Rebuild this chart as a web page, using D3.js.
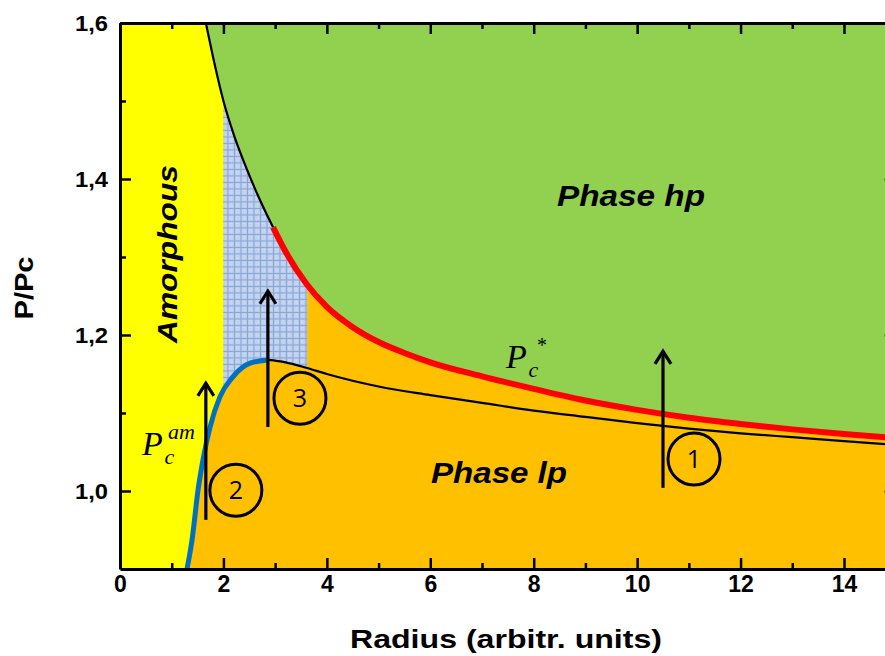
<!DOCTYPE html>
<html>
<head>
<meta charset="utf-8">
<script src="https://cdn.jsdelivr.net/npm/d3@7"></script>
<style>
  body { margin: 0; background: #fff; }
  svg { display: block; }
  .axis path, .axis line { stroke: #000; }
</style>
</head>
<body>
<div id="chart"></div>
<script>
// phase boundaries: radius (arb. units) -> P/Pc
// upper boundary, thin black part
var upperR = [1.66, 1.8, 2.0, 2.2, 2.45, 2.7, 2.96]
var upperP = [1.6, 1.556, 1.5, 1.457, 1.413, 1.374, 1.338]
// upper boundary, red part (Pc*)
var pcStarR = [2.96, 3.2, 3.6, 4, 4.5, 5, 5.5, 6, 7, 8, 9, 10, 11, 12, 13, 14, 15]
var pcStarP = [1.338, 1.307, 1.266, 1.236, 1.210, 1.191, 1.177, 1.165, 1.147, 1.131, 1.116, 1.104, 1.094, 1.086, 1.079, 1.073, 1.068]
// blue curve (Pc am)
var pcAmR = [1.296, 1.393, 1.509, 1.605, 1.741, 1.934, 2.166, 2.515, 2.86]
var pcAmP = [0.9, 0.937, 1.001, 1.040, 1.082, 1.121, 1.145, 1.164, 1.168]
// thin black line under the red one
var lpR = [2.86, 3.2, 3.6, 4, 5, 6, 7, 8, 9, 10, 11, 12, 13, 14, 15]
var lpP = [1.168, 1.165, 1.158, 1.150, 1.134, 1.123, 1.113, 1.103, 1.095, 1.087, 1.080, 1.074, 1.069, 1.064, 1.059]

// region limits
var amorphMax = 2
var hatchR = [2, 3.62]

// arrows: x, from, to
var arrowR = [10.5, 1.66, 2.86]
var arrowFrom = [1.004, 0.963, 1.082]
var arrowTo = [1.181, 1.14, 1.258]
// numbered circles
var circleLabels = ["1", "2", "3"]
var circleR = [11.1, 2.24, 3.48]
var circleP = [1.041, 1.001, 1.119]

// ticks
var xTicks = [0, 2, 4, 6, 8, 10, 12, 14]
var xMinor = [1, 3, 5, 7, 9, 11, 13]
var yTicks = [1.0, 1.2, 1.4, 1.6]
var yLabels = ["1,0", "1,2", "1,4", "1,6"]
var yMinor = [1.1, 1.3, 1.5]

var svgWidth = 885
var svgHeight = 656

var svg = d3.select("#chart")
  .append("svg")
  .attr("width", svgWidth)
  .attr("height", svgHeight)

var x = d3.scaleLinear().domain([0, 15]).range([120, 895.7])
var y = d3.scaleLinear().domain([0.9, 1.6]).range([569, 23])

var zip = (rs, ps) => rs.map((r, i) => [r, ps[i]])
var upperPts = zip(upperR, upperP).concat(zip(pcStarR, pcStarP).slice(1))
var lowerPts = zip(pcAmR, pcAmP).concat(zip(lpR, lpP).slice(1))

var defs = svg.append("defs")
defs.append("clipPath").attr("id", "plot")
  .append("rect")
  .attr("x", x(0)).attr("y", y(1.6))
  .attr("width", x(15) - x(0)).attr("height", y(0.9) - y(1.6))

// light blue grid hatch
var pat = defs.append("pattern")
  .attr("id", "hatch")
  .attr("patternUnits", "userSpaceOnUse")
  .attr("width", 6.5).attr("height", 6.5)
pat.append("rect").attr("width", 6.5).attr("height", 6.5).attr("fill", "#b9cceb")
pat.append("path").attr("d", "M0,0.5H6.5M0.5,0V6.5").attr("stroke", "#87a5d8").attr("stroke-width", 1)
;[[2, 2], [4, 4], [2, 4], [4, 2]].forEach(function(p) {
  pat.append("rect").attr("x", p[0]).attr("y", p[1]).attr("width", 1).attr("height", 1).attr("fill", "#e6eef9")
})

var plot = svg.append("g").attr("clip-path", "url(#plot)")

// background: phase lp
plot.append("rect")
  .attr("x", x(0)).attr("y", y(1.6))
  .attr("width", x(15) - x(0)).attr("height", y(0.9) - y(1.6))
  .attr("fill", "#ffc000")

// amorphous
plot.append("rect")
  .attr("x", x(0)).attr("y", y(1.6))
  .attr("width", x(amorphMax) - x(0)).attr("height", y(0.9) - y(1.6))
  .attr("fill", "#ffff00")

// hatched band
plot.append("rect")
  .attr("x", x(hatchR[0])).attr("y", y(1.6))
  .attr("width", x(hatchR[1]) - x(hatchR[0])).attr("height", y(0.9) - y(1.6))
  .attr("fill", "url(#hatch)")

// below the lower boundary -> orange
plot.append("path")
  .datum(lowerPts)
  .attr("fill", "#ffc000")
  .attr("d", d3.area().x(d => x(d[0])).y0(y(0.9)).y1(d => y(d[1])).curve(d3.curveMonotoneX))

// above the upper boundary -> phase hp (green)
plot.append("path")
  .datum(upperPts)
  .attr("fill", "#92d050")
  .attr("d", d3.area().x(d => x(d[0])).y0(y(1.6)).y1(d => y(d[1])).curve(d3.curveMonotoneX))

var line = d3.line().x(d => x(d[0])).y(d => y(d[1])).curve(d3.curveMonotoneX)

plot.append("path").datum(zip(upperR, upperP))
  .attr("fill", "none").attr("stroke", "#000").attr("stroke-width", 2.2).attr("d", line)
plot.append("path").datum(zip(lpR, lpP))
  .attr("fill", "none").attr("stroke", "#000").attr("stroke-width", 2.2).attr("d", line)
plot.append("path").datum(zip(pcStarR, pcStarP))
  .attr("fill", "none").attr("stroke", "#ff0000").attr("stroke-width", 6).attr("d", line)
plot.append("path").datum(zip(pcAmR, pcAmP))
  .attr("fill", "none").attr("stroke", "#0070c0").attr("stroke-width", 5).attr("d", line)

// axes
var fmtY = (d) => yLabels[yTicks.indexOf(d)]

var xAxis = svg.append("g").attr("class", "axis")
  .attr("transform", `translate(0, ${y(0.9)})`)
  .call(d3.axisBottom(x).tickValues(xTicks).tickSizeInner(-11).tickSizeOuter(0).tickPadding(7))
svg.append("g").attr("class", "axis")
  .attr("transform", `translate(0, ${y(0.9)})`)
  .call(d3.axisBottom(x).tickValues(xMinor).tickSize(-6).tickFormat(""))
  .select(".domain").remove()

var yAxis = svg.append("g").attr("class", "axis")
  .attr("transform", `translate(${x(0)}, 0)`)
  .call(d3.axisLeft(y).tickValues(yTicks).tickFormat(fmtY).tickSizeInner(-11).tickSizeOuter(0).tickPadding(12))
svg.append("g").attr("class", "axis")
  .attr("transform", `translate(${x(0)}, 0)`)
  .call(d3.axisLeft(y).tickValues(yMinor).tickSize(-6).tickFormat(""))
  .select(".domain").remove()

svg.append("g").attr("class", "axis")
  .attr("transform", `translate(0, ${y(1.6)})`)
  .call(d3.axisTop(x).tickValues(xTicks).tickSizeInner(-11).tickSizeOuter(0).tickFormat(""))
svg.append("g").attr("class", "axis")
  .attr("transform", `translate(0, ${y(1.6)})`)
  .call(d3.axisTop(x).tickValues(xMinor).tickSize(-6).tickFormat(""))
  .select(".domain").remove()

svg.append("g").attr("class", "axis")
  .attr("transform", `translate(${x(15)}, 0)`)
  .call(d3.axisRight(y).tickValues(yTicks).tickSizeInner(-11).tickSizeOuter(0).tickFormat(""))

svg.selectAll(".axis .domain").attr("stroke-width", 3)
svg.selectAll(".axis .tick line").attr("stroke-width", 2.5)

xAxis.selectAll("text")
  .style("font-family", "'Liberation Sans', Arial, sans-serif")
  .style("font-weight", "bold")
  .style("font-size", "23px")
  .attr("fill", "#000")
yAxis.selectAll("text")
  .style("font-family", "'Liberation Sans', Arial, sans-serif")
  .style("font-weight", "bold")
  .style("font-size", "22px")
  .attr("dy", "0.34em")
  .attr("fill", "#000")
  .attr("textLength", 33).attr("lengthAdjust", "spacingAndGlyphs")

// arrows
arrowR.forEach(function(r, i) {
  var ax = x(r), y0 = y(arrowFrom[i]), y1 = y(arrowTo[i])
  svg.append("line")
    .attr("x1", ax).attr("x2", ax).attr("y1", y0).attr("y2", y1 + 1)
    .attr("stroke", "#000").attr("stroke-width", 3.2)
  svg.append("path")
    .attr("d", `M${ax - 8},${y1 + 14}L${ax},${y1 + 1.5}L${ax + 8},${y1 + 14}`)
    .attr("fill", "none").attr("stroke", "#000").attr("stroke-width", 3.2)
})

// numbered circles
circleLabels.forEach(function(t, i) {
  svg.append("circle")
    .attr("cx", x(circleR[i])).attr("cy", y(circleP[i])).attr("r", 26)
    .attr("fill", "none").attr("stroke", "#000").attr("stroke-width", 3)
  svg.append("text")
    .attr("x", x(circleR[i])).attr("y", y(circleP[i]) + 9)
    .attr("text-anchor", "middle")
    .style("font-family", "'Open Sans', 'Liberation Sans', sans-serif")
    .style("font-size", "25px")
    .text(t)
})

// region labels
var boldItalic = "font-family:'Liberation Sans',Arial,sans-serif;font-weight:bold;font-style:italic"
svg.append("text").attr("x", 557).attr("y", 206).attr("style", boldItalic + ";font-size:29px")
  .attr("textLength", 148).attr("lengthAdjust", "spacingAndGlyphs").text("Phase hp")
svg.append("text").attr("x", 431).attr("y", 483).attr("style", boldItalic + ";font-size:29px")
  .attr("textLength", 136).attr("lengthAdjust", "spacingAndGlyphs").text("Phase lp")
svg.append("text").attr("transform", "translate(177, 343) rotate(-90)").attr("style", boldItalic + ";font-size:28px")
  .attr("textLength", 178).attr("lengthAdjust", "spacingAndGlyphs").text("Amorphous")

// curve labels (Times italic)
var serif = "font-family:'Liberation Serif','Times New Roman',serif;font-style:italic"
var pcs = svg.append("text").attr("x", 506).attr("y", 368).attr("style", serif + ";font-size:34px")
pcs.append("tspan").text("P")
pcs.append("tspan").attr("x", 528.5).attr("y", 377).style("font-size", "22px").text("c")
pcs.append("tspan").attr("x", 537).attr("y", 352).style("font-size", "20px").style("font-style", "normal").text("*")

var pca = svg.append("text").attr("x", 142).attr("y", 455).attr("style", serif + ";font-size:34px")
pca.append("tspan").text("P")
pca.append("tspan").attr("x", 164.5).attr("y", 464).style("font-size", "22px").text("c")
pca.append("tspan").attr("x", 168).attr("y", 439).style("font-size", "22px").text("am")

// axis titles
svg.append("text")
  .attr("transform", `translate(33, 288) rotate(-90)`)
  .attr("text-anchor", "middle")
  .attr("style", "font-family:'Liberation Sans',Arial,sans-serif;font-weight:bold;font-size:26px")
  .attr("textLength", 63).attr("lengthAdjust", "spacingAndGlyphs")
  .text("P/Pc")

svg.append("text")
  .attr("x", 506).attr("y", 648)
  .attr("text-anchor", "middle")
  .attr("style", "font-family:'Liberation Sans',Arial,sans-serif;font-weight:bold;font-size:26px")
  .attr("textLength", 312).attr("lengthAdjust", "spacingAndGlyphs")
  .text("Radius (arbitr. units)")
</script>
</body>
</html>
